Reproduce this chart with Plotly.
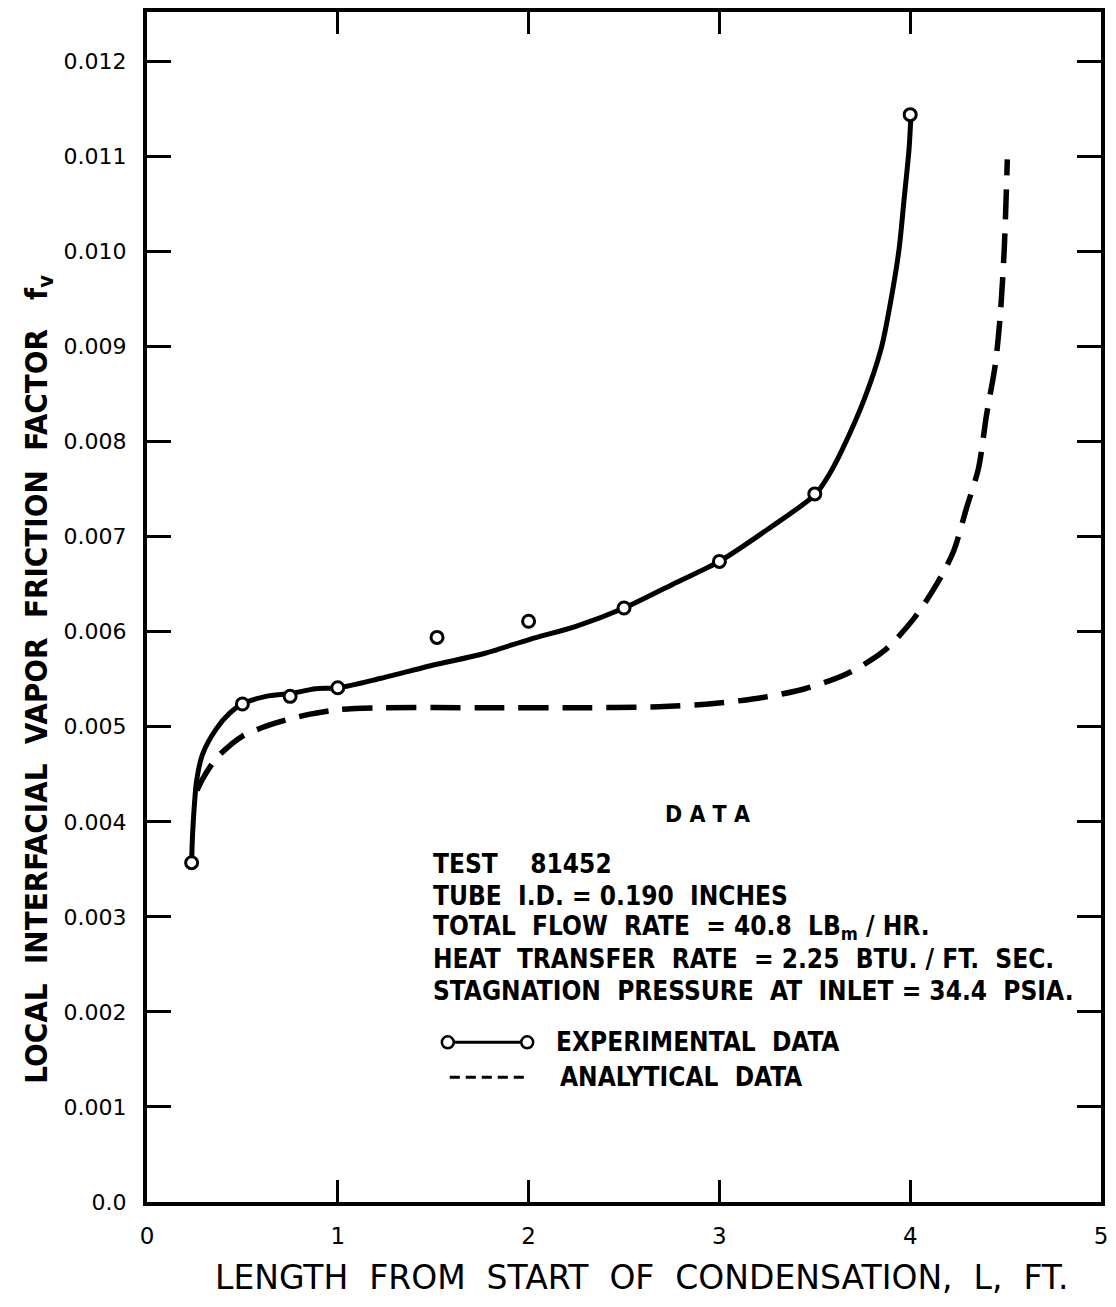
import plotly.graph_objects as go

# Experimental data points (open circles)
exp_x = [0.234, 0.50, 0.75, 1.00, 1.52, 2.00, 2.50, 3.00, 3.50, 4.00]
exp_y = [0.00357, 0.00524, 0.00532, 0.00541, 0.00594, 0.00611, 0.00625, 0.00674, 0.00745, 0.01144]

# Experimental fitted (solid) curve
fit_x = [0.234, 0.239, 0.260, 0.291, 0.364, 0.432, 0.499, 0.624, 0.754, 0.884, 1.004,
         1.227, 1.524, 1.747, 2.007, 2.252, 2.501, 2.756, 3.000, 3.255, 3.505,
         3.580, 3.640, 3.760, 3.848, 3.900, 3.942, 3.968, 3.994, 4.004]
fit_y = [0.00357, 0.00387, 0.00443, 0.00471, 0.00498, 0.00514, 0.00524, 0.00532, 0.00535,
         0.00540, 0.00541, 0.00551, 0.00566, 0.00576, 0.00592, 0.00606, 0.00625, 0.00650,
         0.00674, 0.00708, 0.00745, 0.00767, 0.00790, 0.00845, 0.00898, 0.00950, 0.01003,
         0.01055, 0.01108, 0.01144]

# Analytical (dashed) curve
ana_x = [0.262, 0.291, 0.364, 0.499, 0.676, 0.848, 1.004, 1.227, 1.747, 2.252, 2.683,
         2.943, 3.203, 3.448, 3.671, 3.864, 4.020, 4.139, 4.228, 4.295, 4.358, 4.400,
         4.446, 4.472, 4.493, 4.509]
ana_y = [0.00433, 0.00445, 0.00467, 0.00490, 0.00504, 0.00513, 0.00518, 0.00520, 0.00520,
         0.00520, 0.00521, 0.00524, 0.00530, 0.00540, 0.00556, 0.00580, 0.00614, 0.00650,
         0.00685, 0.00730, 0.00772, 0.00828, 0.00881, 0.00933, 0.01003, 0.01097]

x_ticks = [0, 1, 2, 3, 4, 5]
x_labels = ["0", "1", "2", "3", "4", "5"]
y_ticks = [0.0, 0.001, 0.002, 0.003, 0.004, 0.005, 0.006, 0.007, 0.008, 0.009, 0.010, 0.011, 0.012]
y_labels = ["0.0", "0.001", "0.002", "0.003", "0.004", "0.005", "0.006", "0.007", "0.008",
            "0.009", "0.010", "0.011", "0.012"]

info_lines = [
    "TEST    81452",
    "TUBE  I.D. = 0.190  INCHES",
    "TOTAL  FLOW  RATE  = 40.8  LB<sub>m</sub> / HR.",
    "HEAT  TRANSFER  RATE  = 2.25  BTU. / FT.  SEC.",
    "STAGNATION  PRESSURE  AT  INLET = 34.4  PSIA.",
]

W, H = 1116, 1307
L, R, T, B = 147, 8, 10, 105
pw, ph = W - L - R, H - T - B


def px(x):
    return (x - L) / pw


def py(y):
    return (H - B - y) / ph


TXT = "DejaVu Sans Condensed, DejaVu Sans, sans-serif"

fig = go.Figure()
fig.add_trace(go.Scatter(x=ana_x, y=ana_y, mode="lines",
                         line=dict(color="black", width=5.5, dash="30px,14px", shape="spline", smoothing=0.8),
                         showlegend=False, hoverinfo="skip"))
fig.add_trace(go.Scatter(x=fit_x, y=fit_y, mode="lines",
                         line=dict(color="black", width=5, shape="spline", smoothing=0.8),
                         showlegend=False, hoverinfo="skip"))
fig.add_trace(go.Scatter(x=exp_x, y=exp_y, mode="markers",
                         marker=dict(symbol="circle", size=12, color="white",
                                     line=dict(color="black", width=3)),
                         showlegend=False))

annotations = []
annotations.append(dict(x=px(712), y=py(813), xref="paper", yref="paper", text="D A T A",
                        showarrow=False, font=dict(family=TXT, size=23, color="black", weight="bold"),
                        xanchor="center", yanchor="middle"))
line_y = [863, 895, 927, 959, 991]
for t, yy in zip(info_lines, line_y):
    annotations.append(dict(x=px(433), y=py(yy), xref="paper", yref="paper", text=t,
                            showarrow=False, font=dict(family=TXT, size=26, color="black", weight="bold"),
                            xanchor="left", yanchor="middle"))
annotations.append(dict(x=px(557), y=py(1042), xref="paper", yref="paper", text="EXPERIMENTAL  DATA",
                        showarrow=False, font=dict(family=TXT, size=26, color="black", weight="bold"),
                        xanchor="left", yanchor="middle"))
annotations.append(dict(x=px(561), y=py(1077), xref="paper", yref="paper", text="ANALYTICAL  DATA",
                        showarrow=False, font=dict(family=TXT, size=26, color="black", weight="bold"),
                        xanchor="left", yanchor="middle"))
annotations.append(dict(x=px(38), y=py(678), xref="paper", yref="paper",
                        text="LOCAL  INTERFACIAL  VAPOR  FRICTION  FACTOR   f<sub>v</sub>",
                        textangle=-90, showarrow=False,
                        font=dict(family=TXT, size=31, color="black", weight="bold"),
                        xanchor="center", yanchor="middle"))
annotations.append(dict(x=px(646), y=py(1278), xref="paper", yref="paper",
                        text="LENGTH  FROM  START  OF  CONDENSATION,  L,  FT.",
                        showarrow=False,
                        font=dict(family="DejaVu Sans", size=33, color="black"),
                        xanchor="center", yanchor="middle"))

shapes = []
# legend sample: solid line with circles
shapes.append(dict(type="line", xref="paper", yref="paper", x0=px(450), x1=px(530),
                   y0=py(1042), y1=py(1042), line=dict(color="black", width=3)))
for cx in (450, 530):
    shapes.append(dict(type="circle", xref="paper", yref="paper",
                       x0=px(cx - 6), x1=px(cx + 6), y0=py(1042 + 6), y1=py(1042 - 6),
                       line=dict(color="black", width=2.5), fillcolor="white"))
# legend sample: dashed line
shapes.append(dict(type="line", xref="paper", yref="paper", x0=px(452), x1=px(530),
                   y0=py(1077), y1=py(1077), line=dict(color="black", width=3, dash="10px,6px")))

fig.update_layout(
    width=W, height=H,
    margin=dict(l=L, r=R, t=T, b=B),
    paper_bgcolor="white", plot_bgcolor="white",
    showlegend=False,
    annotations=annotations, shapes=shapes,
    font=dict(family="DejaVu Sans", color="black"),
)
fig.update_xaxes(range=[0, 5], tickvals=x_ticks, ticktext=x_labels,
                 showline=True, linecolor="black", linewidth=4, mirror="ticks",
                 ticks="inside", ticklen=22, tickwidth=3, tickcolor="black",
                 showgrid=False, zeroline=False,
                 tickfont=dict(family="DejaVu Sans", size=23, color="black"),
                 ticklabelstandoff=10)
fig.update_yaxes(range=[0, 0.01252], tickvals=y_ticks, ticktext=y_labels,
                 showline=True, linecolor="black", linewidth=4, mirror="ticks",
                 ticks="inside", ticklen=24, tickwidth=3, tickcolor="black",
                 showgrid=False, zeroline=False,
                 tickfont=dict(family="DejaVu Sans", size=22, color="black"),
                 ticklabelstandoff=12)

fig.write_html("out.html")
